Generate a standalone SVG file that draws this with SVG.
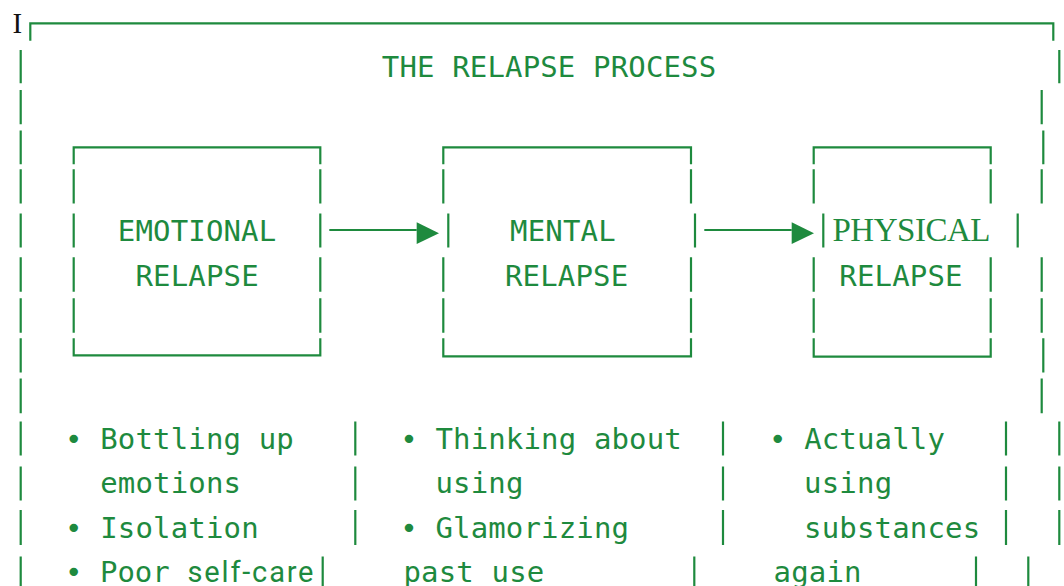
<svg xmlns="http://www.w3.org/2000/svg" width="1064" height="586" viewBox="0 0 1064 586">
<defs>
<style>
.ln{stroke:#1e8a3e;stroke-width:2.2;fill:none}
.t{font-family:"DejaVu Sans Mono","Liberation Mono",monospace;font-size:29px;fill:#1e8a3e}
.sf{font-family:"Liberation Serif","DejaVu Serif",serif}
.big{font-size:33px}
.pr{font-family:Roboto,"Liberation Sans",sans-serif}
</style>
<marker id="ah" viewBox="0 -8 23 23" refX="0" refY="0" markerWidth="23" markerHeight="23" markerUnits="userSpaceOnUse" orient="auto" overflow="visible">
<path d="M0,-7.7 L22.3,3.3 L0,14 Z" fill="#1e8a3e"/>
</marker>
</defs>
<rect width="1064" height="586" fill="#ffffff"/>

<g id="frame">
<text x="12.5" y="33.3" class="sf" font-size="29" fill="#111111">I</text>
<path class="ln" d="M30.3,40.7 V23.3 H1053.3 V40.7"/>
<path class="ln" d="M20.7,50 V83.3 M20.7,90 V124.3 M20.7,130.5 V164.3 M20.7,169.3 V203.5 M20.7,213.5 V247.5 M20.7,257.3 V291.7 M20.7,298.3 V332.7 M20.7,338.3 V372.5 M20.7,378.5 V413.3 M20.7,421.5 V455.5 M20.7,466.5 V500.5 M20.7,510 V545 M20.7,556.5 V590"/>
<path class="ln" d="M1059.3,50 V83.3 M1041.7,90 V124.3 M1043.3,130.5 V164.3 M1041.7,169.3 V203.5 M1017.7,213.5 V247.5 M1041.7,257.3 V291.7 M1041.7,298.3 V332.7 M1043.3,338.3 V372.5 M1041.7,378.5 V413.3 M1059.3,421.5 V455.5 M1059.3,466.5 V500.5 M1059.3,510 V545 M1028.3,556.5 V590"/>
<path class="ln" d="M355.3,421.5 V455.5 M355.3,466.5 V500.5 M355.3,510 V545 M322.7,556.5 V590 M723,421.5 V455.5 M723,466.5 V500.5 M723,510 V545 M694.3,556.5 V590 M1006,421.5 V455.5 M1006,466.5 V500.5 M1006,510 V545 M976,556.5 V590"/>
</g>

<g id="title">
<text class="t" x="381.8" y="76.7" textLength="334.4">THE RELAPSE PROCESS</text>
</g>

<g id="emotional">
<path class="ln" d="M73.7,164.3 V147.3 H320.3 V164.3 M73.7,338.3 V355.3 H320.3 V338.3"/>
<path class="ln" d="M73.7,169.3 V203.5 M73.7,213.5 V247.5 M73.7,257.3 V291.7 M73.7,298.3 V332.7 M320.3,169.3 V203.5 M320.3,213.5 V247.5 M320.3,257.3 V291.7 M320.3,298.3 V332.7"/>
<text class="t" x="117.8" y="240.7" textLength="158.4">EMOTIONAL</text>
<text class="t" x="135.4" y="285.7" textLength="123.2">RELAPSE</text>
</g>

<g id="mental">
<path class="ln" d="M443.3,164.3 V147.3 H691 V164.3 M443.3,338.3 V356.3 H691 V338.3"/>
<path class="ln" d="M443.3,169.3 V203.5 M448.3,213.5 V247.5 M443.3,257.3 V291.7 M443.3,298.3 V332.7 M691,169.3 V203.5 M695,213.5 V247.5 M691,257.3 V291.7 M691,298.3 V332.7"/>
<text class="t" x="510" y="240.7" textLength="105.6">MENTAL</text>
<text class="t" x="505" y="285.7" textLength="123.2">RELAPSE</text>
</g>

<g id="physical">
<path class="ln" d="M813.7,164.3 V147.3 H990.7 V164.3 M813.7,338.3 V356.7 H990.7 V338.3"/>
<path class="ln" d="M813.7,169.3 V203.5 M823.3,213.5 V247.5 M813.7,257.3 V291.7 M813.7,298.3 V332.7 M990.7,169.3 V203.5 M990.7,257.3 V291.7 M990.7,298.3 V332.7"/>
<text class="t sf big" x="832.5" y="240.7" textLength="158">PHYSICAL</text>
<text class="t" x="839.3" y="285.7" textLength="123.2">RELAPSE</text>
</g>

<g id="connectors">
<line class="ln" x1="329.3" y1="230" x2="416.7" y2="230" marker-end="url(#ah)"/>
<line class="ln" x1="704.3" y1="230" x2="791.7" y2="230" marker-end="url(#ah)"/>
</g>

<g id="emotional-signs">
<text class="t" x="65" y="449" textLength="228.8">• Bottling up</text>
<text class="t" x="100.2" y="493.3" textLength="140.8">emotions</text>
<text class="t" x="65" y="537.7" textLength="193.6">• Isolation</text>
<text class="t" x="65" y="582">• Poor</text>
<text class="t pr" x="187.5" y="582" textLength="126">self-care</text>
</g>

<g id="mental-signs">
<text class="t" x="400.2" y="449" textLength="281.6">• Thinking about</text>
<text class="t" x="435.4" y="493.3" textLength="88">using</text>
<text class="t" x="400.2" y="537.7" textLength="228.8">• Glamorizing</text>
<text class="t" x="403.5" y="582" textLength="140.8">past use</text>
</g>

<g id="physical-signs">
<text class="t" x="768.9" y="449" textLength="176">• Actually</text>
<text class="t" x="804.1" y="493.3" textLength="88">using</text>
<text class="t" x="804.1" y="537.7" textLength="176">substances</text>
<text class="t" x="773.5" y="582" textLength="88">again</text>
</g>
</svg>
